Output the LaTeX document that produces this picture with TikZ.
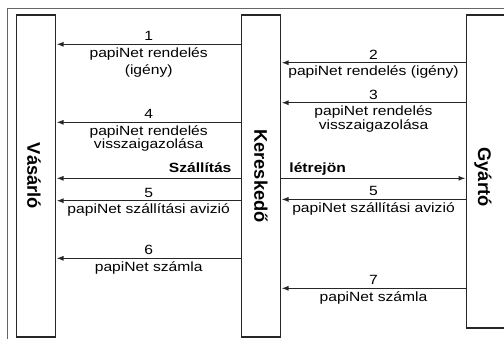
\documentclass[tikz,border=0pt]{standalone}
\usepackage{fontspec}
\setmainfont{Liberation Sans}[FakeStretch=1.17]
\newfontfamily\lanefont{Liberation Sans}
\usetikzlibrary{arrows.meta}

\begin{document}
\begin{tikzpicture}[x=0.025cm, y=-0.025cm,
		every node/.append style={font=\fontsize{9.5}{9.5}\selectfont},
		lane/.style={draw=black!85, line width=1.1pt, inner sep=0pt, minimum width=0.975cm},
		lanename/.style={rotate=-90, inner sep=0pt, font=\lanefont\fontsize{13}{13}\bfseries\selectfont},
		msg/.style={draw=black!85, line width=0.9pt, -{Latex[length=5pt,width=3.6pt]}},
		num/.style={midway, above, inner sep=2pt},
		txt/.style={midway, below, inner sep=2pt, align=center}]
	\useasboundingbox (0,0) rectangle (504,338);
	\draw [black!60, line width=0.9pt] (530,8.4) -| (7.7,360);

	% the three parties
	\node [lane, minimum height=8.05cm] (vas) at (36.2,176) {};
	\node [lane, minimum height=8.05cm] (ker) at (261.2,176) {};
	\node [lane, minimum height=7.82cm] (gyar) at (485.8,171.4) {};
	\node [lanename] (vasname) at (34,176) {Vásárló};
	\node [lanename] (kername) at (261,176) {Kereskedő};
	\node [lanename] (gyarname) at (483,177) {Gyártó};

	% Kereskedo -> Vasarlo
	\draw [msg] (ker.west |- 0,44.3) -- (vas.east |- 0,44.3)
		node [num] (n1) {1}
		node [txt] (t1) {papiNet rendelés\\[2.5pt](igény)};
	\draw [msg] (ker.west |- 0,122.3) -- (vas.east |- 0,122.3)
		node [num] (n4) {4}
		node [txt] (t4) {papiNet rendelés\\visszaigazolása};
	\draw [msg] (ker.west |- 0,178.3) -- (vas.east |- 0,178.3)
		node [at start, anchor=base east, inner sep=0pt, xshift=-6.3pt, yshift=3.8pt] (szall) {\bfseries Szállítás};
	\draw [msg] (ker.west |- 0,200.7) -- (vas.east |- 0,200.7)
		node [num] (n5a) {5}
		node [txt] (t5a) {papiNet szállítási avizió};
	\draw [msg] (ker.west |- 0,258.3) -- (vas.east |- 0,258.3)
		node [num] (n6) {6}
		node [txt] (t6) {papiNet számla};

	% Gyarto <-> Kereskedo
	\draw [msg] (gyar.west |- 0,62.7) -- (ker.east |- 0,62.7)
		node [num] (n2) {2}
		node [txt] (t2) {papiNet rendelés (igény)};
	\draw [msg] (gyar.west |- 0,102.7) -- (ker.east |- 0,102.7)
		node [num] (n3) {3}
		node [txt] (t3) {papiNet rendelés\\visszaigazolása};
	\draw [msg] (ker.east |- 0,178.3) -- (gyar.west |- 0,178.3)
		node [at start, anchor=base west, inner sep=0pt, xshift=5.2pt, yshift=3.8pt] (letre) {\bfseries létrejön};
	\draw [msg] (gyar.west |- 0,199.4) -- (ker.east |- 0,199.4)
		node [num] (n5b) {5}
		node [txt] (t5b) {papiNet szállítási avizió};
	\draw [msg] (gyar.west |- 0,288.3) -- (ker.east |- 0,288.3)
		node [num] (n7) {7}
		node [txt] (t7) {papiNet számla};
\end{tikzpicture}
\end{document}
